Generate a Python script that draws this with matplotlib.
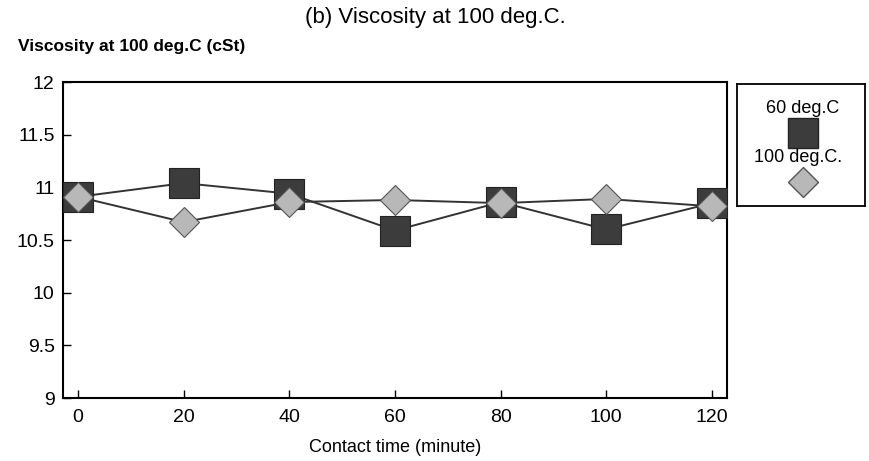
import matplotlib.pyplot as plt
from matplotlib.lines import Line2D

plt.rcParams["font.family"] = ["Liberation Sans", "DejaVu Sans"]

# contact time (minute)
time = [0, 20, 40, 60, 80, 100, 120]
# viscosity at 100 deg.C (cSt)
visc_60 = [10.91, 11.04, 10.94, 10.59, 10.86, 10.60, 10.85]
visc_100 = [10.91, 10.67, 10.86, 10.88, 10.85, 10.89, 10.82]

fig = plt.figure(figsize=(8.7, 4.61), dpi=100)
ax = fig.add_axes([63 / 870, 1 - 398 / 461, 664 / 870, 316 / 461])

ax.plot(time, visc_60, color="#333333", linewidth=1.4, marker="s", markersize=22,
        markerfacecolor="#3c3c3c", markeredgecolor="#222222", markeredgewidth=0.8, zorder=3)
ax.plot(time, visc_100, color="#333333", linewidth=1.4, marker="D", markersize=15,
        markerfacecolor="#b8b8b8", markeredgecolor="#555555", markeredgewidth=0.8, zorder=4)

ax.set_xlim(-2.84, 122.85)
ax.set_ylim(9, 12)
ax.set_xticks(time)
ax.set_yticks([9, 9.5, 10, 10.5, 11, 11.5, 12])
ax.set_yticklabels(["9", "9.5", "10", "10.5", "11", "11.5", "12"])
ax.tick_params(direction="in", length=6, width=1, labelsize=14, top=False, right=False)
ax.tick_params(axis="x", pad=8)
ax.tick_params(axis="y", pad=6)
for s in ax.spines.values():
    s.set_linewidth(1.5)

ax.set_xlabel("Contact time (minute)", fontsize=13, labelpad=9)
fig.text(0.5, 1 - 17 / 461, "(b) Viscosity at 100 deg.C.", ha="center", va="center", fontsize=16)
fig.text(18 / 870, 1 - 47 / 461, "Viscosity at 100 deg.C (cSt)", ha="left", va="center",
         fontsize=12.5, fontweight="bold")

# legend box drawn by hand: label above marker
lax = fig.add_axes([737 / 870, 1 - 206 / 461, 128 / 870, 122 / 461])
lax.set_xlim(0, 128)
lax.set_ylim(206, 84)
lax.set_xticks([])
lax.set_yticks([])
for s in lax.spines.values():
    s.set_linewidth(1.3)
lax.text(66, 108, "60 deg.C", ha="center", va="center", fontsize=13)
lax.add_line(Line2D([66], [133], marker="s", markersize=21, markerfacecolor="#3c3c3c",
                    markeredgecolor="#222222"))
lax.text(61, 157, "100 deg.C.", ha="center", va="center", fontsize=13)
lax.add_line(Line2D([66], [182], marker="D", markersize=15, markerfacecolor="#b8b8b8",
                    markeredgecolor="#555555"))

plt.savefig("out.png", dpi=100)
